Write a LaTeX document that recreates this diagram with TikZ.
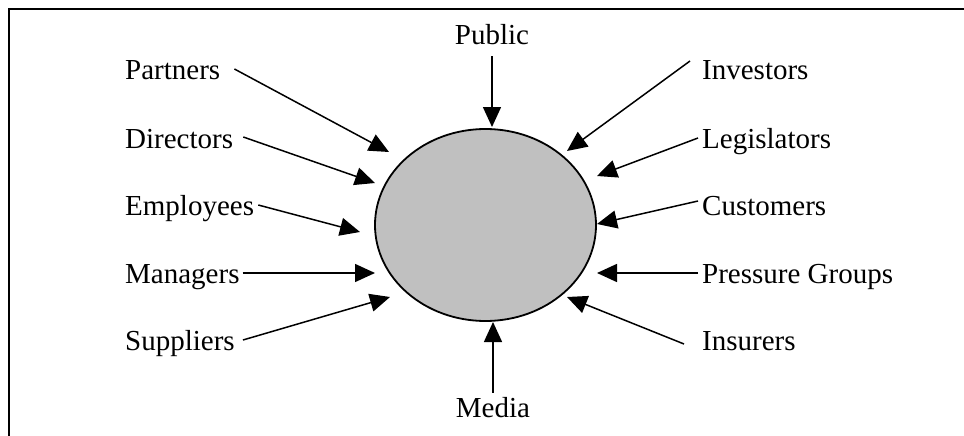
\documentclass[tikz,border=0pt]{standalone}
\usepackage{fontspec}
\setmainfont{Liberation Serif}
\usetikzlibrary{arrows.meta, shapes.geometric}
\definecolor{orggray}{RGB}{192,192,192}

\begin{document}
\begin{tikzpicture}[
  x=1pt, y=-1pt,
  lab/.style={inner sep=0pt, text height=20pt, text depth=0pt, font=\fontsize{29}{34}\selectfont},
  arr/.style={line width=1.5pt, -{Triangle[length=20pt, width=18pt]}},
  frame/.style={line width=2pt}
]
\useasboundingbox (0,0) rectangle (964,436);
\draw[frame] (9,436) -- (9,9) -- (964,9);

\node[ellipse, draw, line width=1.8pt, fill=orggray, minimum width=221pt, minimum height=192pt, inner sep=0pt] (org) at (485.5,225) {};

% stakeholders, left
\node[lab, anchor=base west] (par) at (125,80) {Partners};
\node[lab, anchor=base west] (dir) at (125,148) {Directors};
\node[lab, anchor=base west] (emp) at (125,215) {Employees};
\node[lab, anchor=base west] (man) at (125,283) {Managers};
\node[lab, anchor=base west] (sup) at (125,350) {Suppliers};

% stakeholders, right
\node[lab, anchor=base west] (inv) at (702,80) {Investors};
\node[lab, anchor=base west] (leg) at (702,148) {Legislators};
\node[lab, anchor=base west] (cus) at (702,215) {Customers};
\node[lab, anchor=base west] (pre) at (702,283) {Pressure Groups};
\node[lab, anchor=base west] (ins) at (702,350) {Insurers};

% top and bottom
\node[lab, anchor=base] (pub) at (492,45) {Public};
\node[lab, anchor=base] (med) at (493,417) {Media};

% arrow tips round the ellipse
\coordinate (tpar) at (389,152);
\coordinate (tdir) at (375,183);
\coordinate (temp) at (360,232);
\coordinate (tman) at (375,273);
\coordinate (tsup) at (390,297);
\coordinate (tinv) at (567,151);
\coordinate (tleg) at (597,176);
\coordinate (tcus) at (597,224);
\coordinate (tpre) at (597,273);
\coordinate (tins) at (567,297);
\coordinate (tpub) at (492,127);
\coordinate (tmed) at (493,322);

\draw[arr] ([xshift=14pt,yshift=1pt]par.east) -- (tpar);
\draw[arr] ([xshift=10pt,yshift=1pt]dir.east) -- (tdir);
\draw[arr] ([xshift=4pt]emp.east) -- (temp);
\draw[arr] ([xshift=3pt]man.east) -- (tman);
\draw[arr] ([xshift=8pt]sup.east) -- (tsup);
\draw[arr] ([xshift=-12pt,yshift=9pt]inv.west) -- (tinv);
\draw[arr] ([xshift=-4pt]leg.west) -- (tleg);
\draw[arr] ([xshift=-4pt,yshift=4pt]cus.west) -- (tcus);
\draw[arr] ([xshift=-4pt]pre.west) -- (tpre);
\draw[arr] ([xshift=-18pt,yshift=-4pt]ins.west) -- (tins);
\draw[arr] ([yshift=-11pt]pub.south) -- (tpub);
\draw[arr] ([yshift=4pt]med.north) -- (tmed);
\end{tikzpicture}
\end{document}
